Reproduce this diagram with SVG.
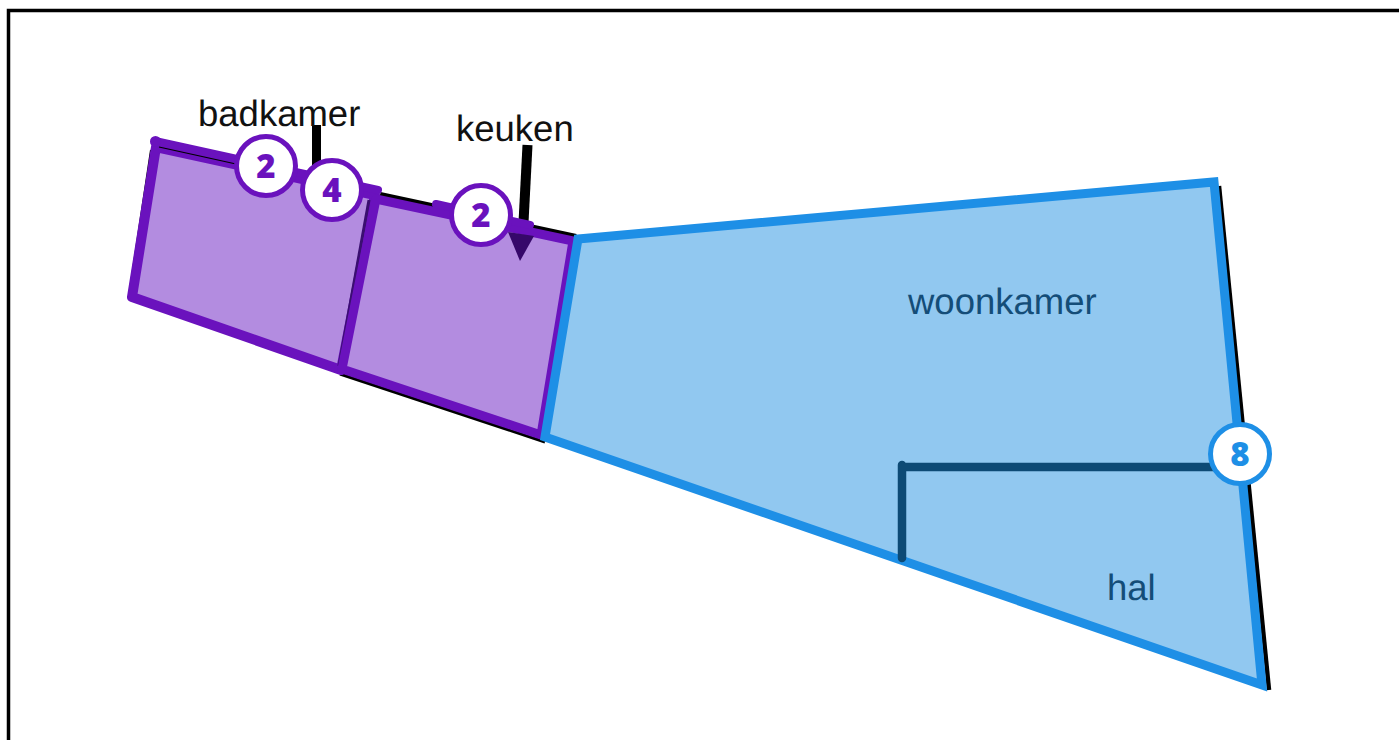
<svg xmlns="http://www.w3.org/2000/svg" width="1399" height="740" viewBox="0 0 1399 740">
<style>
.lbl{font-family:"Liberation Sans",Arial,sans-serif;font-size:36.500px;text-rendering:geometricPrecision}
.num{font-family:"Open Sans","Noto Sans",sans-serif;font-size:33px;font-weight:800;text-anchor:middle}
.p{fill:#b38ce0;stroke:#6a12bd;stroke-linejoin:round}
.b{fill:#91c8f0;stroke:#1e8fe6;stroke-width:9;stroke-linejoin:miter}
.ink{stroke:#000;fill:none}
.hall{stroke:#0d4a75;stroke-width:8.500;fill:none;stroke-linecap:round}
.badge{fill:#fff;stroke-width:5}
</style>
<rect x="0" y="0" width="1399" height="740" fill="#fff"/>
<path d="M1399 10.500H8.500V740" fill="none" stroke="#000" stroke-width="3.500"/>
<g id="connectors">
<path class="ink" stroke-width="9" d="M316.500 125V168"/>
<path class="ink" stroke-width="10" d="M527.500 145L523 232"/>
<path class="ink" stroke-width="6" d="M380 195L576 237"/>
<path class="ink" stroke-width="3" d="M340 374L545 442"/>
<path class="ink" stroke-width="4.500" d="M1219 186L1269 690"/>
<path class="ink" stroke-width="2" d="M151 150L129 296"/>
</g>
<g id="badkamer">
<polygon class="p" stroke-width="10" points="156,147 375,195 341,370 132,297"/>
<path d="M369 200L339 366" stroke="#3a0f70" stroke-width="3" fill="none"/>
<path d="M155 141L378 190" stroke="#6a12bd" stroke-width="8" fill="none" stroke-linecap="round"/>
<circle cx="155.500" cy="141.500" r="5.500" fill="#6a12bd"/>
<path d="M159 147L236 164" stroke="#000" stroke-width="1.200" fill="none"/>
<text class="lbl" x="198" y="126" fill="#111">badkamer</text>
</g>
<g id="keuken">
<polygon class="p" stroke-width="9" points="376,199 573,241 541,435 342,369"/>
<polygon points="508,232 534,236 520,261" fill="#36086a"/>
<path d="M436 204L530 225" stroke="#6a12bd" stroke-width="8" fill="none" stroke-linecap="round"/>
<text class="lbl" x="456" y="141" fill="#111">keuken</text>
</g>
<g id="woonkamer">
<polygon class="b" points="578,239 1214,182 1262,685 545,437"/>
<path class="hall" d="M902 465V558M902 467H1220"/>
<text class="lbl" x="908" y="314" fill="#144d78">woonkamer</text>
<text class="lbl" x="1107" y="600" fill="#144d78">hal</text>
</g>
<g id="badge-2a"><circle class="badge" cx="266" cy="166" r="29.500" stroke="#6a12bd"/><text class="num" x="266" y="178" fill="#6a12bd">2</text></g>
<g id="badge-4"><circle class="badge" cx="332" cy="190" r="29.500" stroke="#6a12bd"/><text class="num" x="332" y="202" fill="#6a12bd">4</text></g>
<g id="badge-2b"><circle class="badge" cx="481" cy="215" r="29.500" stroke="#6a12bd"/><text class="num" x="481" y="227" fill="#6a12bd">2</text></g>
<g id="badge-8"><circle class="badge" cx="1240" cy="454" r="29.500" stroke="#1e8fe6"/><text class="num" x="1240" y="466" fill="#1e8fe6">8</text></g>
</svg>
